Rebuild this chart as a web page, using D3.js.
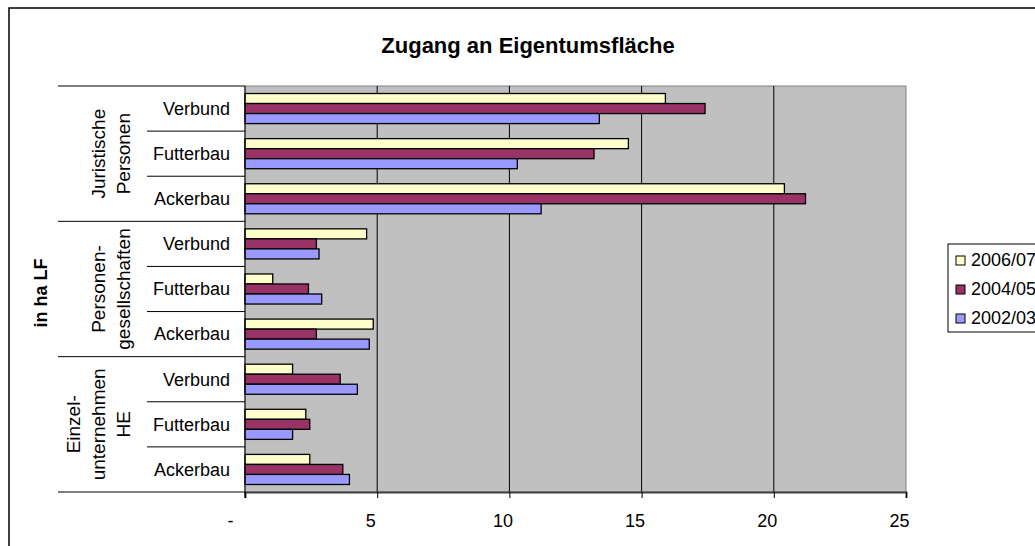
<!DOCTYPE html>
<html>
<head>
<meta charset="utf-8">
<script src="https://cdn.jsdelivr.net/npm/d3@7"></script>
<style>
  html, body { margin: 0; padding: 0; background: #fff; }
  svg { display: block; font-family: "Liberation Sans", Arial, sans-serif; }
</style>
</head>
<body>
<div id="chart"></div>
<script>
// data, top to bottom as in the picture
const groupLabels = [["Juristische", "Personen"], ["Personen-", "gesellschaften"], ["Einzel-", "unternehmen", "HE"]];
const crops = ["Verbund", "Futterbau", "Ackerbau"];
const seriesNames = ["2006/07", "2004/05", "2002/03"];
const v0607 = [15.9, 14.5, 20.4, 4.6, 1.05, 4.85, 1.8, 2.3, 2.45];
const v0405 = [17.4, 13.2, 21.2, 2.7, 2.4, 2.7, 3.6, 2.45, 3.7];
const v0203 = [13.4, 10.3, 11.2, 2.8, 2.9, 4.7, 4.25, 1.8, 3.95];
const xTicks = [0, 5, 10, 15, 20, 25];
const colors = ["#FFFFCC", "#993366", "#9999FF"];

const width = 1035, height = 546;
const plot = { left: 245, right: 906, top: 86, bottom: 492 };

const rows = [];
groupLabels.forEach((g, gi) => crops.forEach(c => rows.push({ key: gi + "|" + c, group: gi, crop: c })));
const seriesValues = [v0607, v0405, v0203];

const svg = d3.select("#chart").append("svg")
  .attr("width", width)
  .attr("height", height);

// outer chart border (right and bottom fall outside the view)
svg.append("rect")
  .attr("x", 9).attr("y", 8)
  .attr("width", 1100).attr("height", 600)
  .attr("fill", "none").attr("stroke", "#000").attr("stroke-width", 1.5);

svg.append("text")
  .attr("x", 528).attr("y", 53)
  .attr("text-anchor", "middle")
  .style("font-size", "22px").style("font-weight", "bold")
  .text("Zugang an Eigentumsfläche");

const x = d3.scaleLinear().domain([0, 25]).range([plot.left, plot.right]);
const y = d3.scaleBand()
  .domain(rows.map(r => r.key))
  .range([plot.top, plot.bottom])
  .paddingInner(1 / 3)
  .paddingOuter(1 / 6);
const ySub = d3.scaleBand().domain(seriesNames).range([0, y.bandwidth()]);
const step = y.step();

// plot area
svg.append("rect")
  .attr("x", plot.left).attr("y", plot.top)
  .attr("width", plot.right - plot.left).attr("height", plot.bottom - plot.top)
  .attr("fill", "#C0C0C0").attr("stroke", "#808080").attr("stroke-width", 1);

svg.append("g").selectAll("line")
  .data(xTicks.slice(1, -1))
  .enter().append("line")
  .attr("x1", d => x(d)).attr("x2", d => x(d))
  .attr("y1", plot.top).attr("y2", plot.bottom)
  .attr("stroke", "#000").attr("stroke-width", 1);

// bars
const rowG = svg.append("g").selectAll("g")
  .data(rows)
  .enter().append("g")
  .attr("transform", d => `translate(0,${y(d.key)})`);

rowG.selectAll("rect")
  .data((d, i) => seriesNames.map((s, si) => ({ s, si, v: seriesValues[si][i] })))
  .enter().append("rect")
  .attr("x", x(0))
  .attr("y", d => ySub(d.s))
  .attr("width", d => x(d.v) - x(0))
  .attr("height", ySub.bandwidth())
  .attr("fill", d => colors[d.si])
  .attr("stroke", "#000").attr("stroke-width", 1.3);

// bottom axis
const xAxis = d3.axisBottom(x)
  .tickValues(xTicks)
  .tickSize(6)
  .tickFormat(d => d === 0 ? "-" : d);
const gx = svg.append("g")
  .attr("transform", `translate(0,${plot.bottom})`)
  .call(xAxis);
gx.select(".domain").attr("stroke", "#404040").attr("stroke-width", 2);
gx.selectAll(".tick line").attr("stroke", "#000");
gx.selectAll(".tick text")
  .attr("y", 35).attr("dy", 0)
  .attr("dx", d => d === 0 ? -15 : -7)
  .style("font-size", "18px")
  .style("font-family", "'Liberation Sans', Arial, sans-serif")
  .attr("fill", "#000");

// left axis line
svg.append("line")
  .attr("x1", plot.left).attr("x2", plot.left)
  .attr("y1", plot.top).attr("y2", plot.bottom + 6)
  .attr("stroke", "#000");

// category separators
const bounds = d3.range(rows.length + 1);
svg.append("g").selectAll("line")
  .data(bounds)
  .enter().append("line")
  .attr("x1", i => i % 3 === 0 ? 58 : 147)
  .attr("x2", plot.left)
  .attr("y1", i => plot.top + i * (plot.bottom - plot.top) / rows.length)
  .attr("y2", i => plot.top + i * (plot.bottom - plot.top) / rows.length)
  .attr("stroke", "#000").attr("stroke-width", 1);

// crop labels
svg.append("g").selectAll("text")
  .data(rows)
  .enter().append("text")
  .attr("x", 230)
  .attr("y", d => y(d.key) + y.bandwidth() / 2)
  .attr("dy", "0.35em")
  .attr("text-anchor", "end")
  .style("font-size", "18px")
  .text(d => d.crop);

// group labels (rotated)
const groupH = (plot.bottom - plot.top) / groupLabels.length;
groupLabels.forEach((lines, gi) => {
  const cy = plot.top + groupH * (gi + 0.5);
  lines.forEach((t, li) => {
    const bx = 130 - (lines.length - 1 - li) * 25;
    svg.append("text")
      .attr("transform", `translate(${bx},${cy}) rotate(-90)`)
      .attr("text-anchor", "middle")
      .style("font-size", "19px")
      .text(t);
  });
});

svg.append("text")
  .attr("transform", `translate(47,293) rotate(-90)`)
  .attr("text-anchor", "middle")
  .style("font-size", "18px").style("font-weight", "bold")
  .text("in ha LF");

// legend
const legend = svg.append("g");
legend.append("rect")
  .attr("x", 948).attr("y", 244)
  .attr("width", 120).attr("height", 88)
  .attr("fill", "#fff").attr("stroke", "#000").attr("stroke-width", 1);
const li = legend.selectAll("g.item")
  .data(seriesNames)
  .enter().append("g")
  .attr("class", "item")
  .attr("transform", (d, i) => `translate(0,${266 + i * 29})`);
li.append("rect")
  .attr("x", 956).attr("y", -10)
  .attr("width", 9).attr("height", 9)
  .attr("fill", (d, i) => colors[i])
  .attr("stroke", "#000").attr("stroke-width", 1);
li.append("text")
  .attr("x", 971).attr("y", 0)
  .style("font-size", "18px")
  .text(d => d);
</script>
</body>
</html>
